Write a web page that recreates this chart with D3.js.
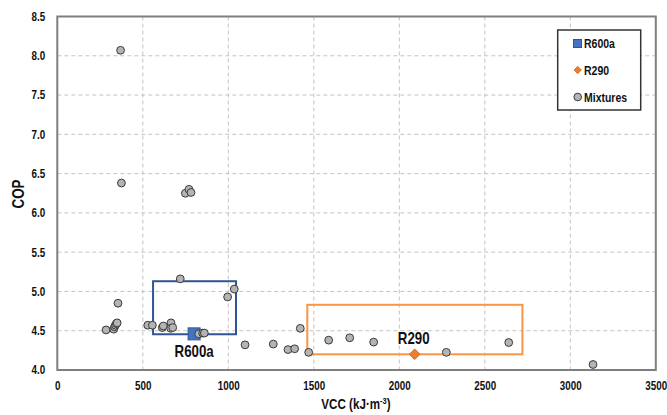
<!DOCTYPE html>
<html>
<head>
<meta charset="utf-8">
<script src="https://cdn.jsdelivr.net/npm/d3@7"></script>
<style>
  html, body { margin: 0; padding: 0; background: #fff; }
  svg { display: block; }
  text { font-family: "Liberation Sans", Arial, sans-serif; font-weight: bold; fill: #111; }
</style>
</head>
<body>
<svg id="chart" width="667" height="415"></svg>
<script>
// Reference refrigerants
const r600aPoint = [800, 4.46];
const r290Point = [2090, 4.20];

// Refrigerant mixtures: VCC (kJ·m-3), COP
const mixVCC = [370, 375, 749, 770, 782, 285, 330, 335, 340, 345, 350, 355,
  529, 556, 614, 620, 665, 663, 675, 719, 996, 1035, 827, 850, 860,
  1098, 1263, 1349, 1388, 1421, 1470, 1587, 1710, 1850, 2275, 2640, 3133];
const mixCOP = [8.07, 6.38, 6.25, 6.30, 6.26, 4.51, 4.52, 4.55, 4.57, 4.59, 4.60, 4.85,
  4.57, 4.57, 4.54, 4.56, 4.60, 4.53, 4.54, 5.16, 4.93, 5.03, 4.46, 4.47, 4.47,
  4.32, 4.33, 4.26, 4.27, 4.53, 4.225, 4.38, 4.41, 4.355, 4.225, 4.35, 4.07];

// Highlight regions around each reference refrigerant: [vccMin, vccMax, copMin, copMax]
const r600aRegion = [560, 1045, 4.455, 5.13];
const r290Region = [1462, 2720, 4.20, 4.83];

const xTicks = [0, 500, 1000, 1500, 2000, 2500, 3000, 3500];
const yTicks = [4.0, 4.5, 5.0, 5.5, 6.0, 6.5, 7.0, 7.5, 8.0, 8.5];
const legendLabels = ["R600a", "R290", "Mixtures"];

const blue = "#4472c4", blueDark = "#2f5597";
const orange = "#ed7d31", orangeBox = "#f79646";

const svg = d3.select("#chart");
const m = { left: 57.3, right: 655.8, top: 16.5, bottom: 370 };

const x = d3.scaleLinear().domain([0, 3500]).range([m.left, m.right]);
const y = d3.scaleLinear().domain([4.0, 8.5]).range([m.bottom, m.top]);

// Narrow the glyphs horizontally, keeping each text's anchor point in place
function squeeze(sel, k) {
  sel.each(function () {
    const t = d3.select(this);
    const tx = +t.attr("x") || 0, ty = +t.attr("y") || 0;
    const prev = t.attr("transform") || "";
    t.attr("x", 0).attr("y", 0)
      .attr("transform", `${prev} translate(${tx},${ty}) scale(${k},1)`);
  });
}

// Dashed grid
svg.append("g").selectAll("line").data(xTicks.slice(1, -1)).join("line")
  .attr("x1", d => x(d)).attr("x2", d => x(d))
  .attr("y1", m.top).attr("y2", m.bottom)
  .attr("stroke", "#c4c4c4").attr("stroke-width", 1).attr("stroke-dasharray", "4,3");
svg.append("g").selectAll("line").data(yTicks.slice(1, -1)).join("line")
  .attr("x1", m.left).attr("x2", m.right)
  .attr("y1", d => y(d)).attr("y2", d => y(d))
  .attr("stroke", "#c4c4c4").attr("stroke-width", 1).attr("stroke-dasharray", "4,3");

// Axes (labels only)
const xAxis = svg.append("g").attr("transform", `translate(0,${m.bottom})`)
  .call(d3.axisBottom(x).tickValues(xTicks).tickFormat(d3.format("d")).tickSize(0).tickPadding(11));
const yAxis = svg.append("g").attr("transform", `translate(${m.left},0)`)
  .call(d3.axisLeft(y).tickValues(yTicks).tickFormat(d3.format(".1f")).tickSize(0).tickPadding(12));
[xAxis, yAxis].forEach(a => {
  a.select(".domain").remove();
  a.attr("font-family", null).attr("font-size", null);
  a.selectAll("text").attr("font-size", 12).attr("fill", "#222");
  squeeze(a.selectAll("text"), 0.82);
});

// Plot frame
svg.append("rect").attr("x", m.left).attr("y", m.top)
  .attr("width", m.right - m.left).attr("height", m.bottom - m.top)
  .attr("fill", "none").attr("stroke", "#7f7f7f").attr("stroke-width", 2);

// Region boxes
svg.append("rect")
  .attr("x", x(r600aRegion[0])).attr("y", y(r600aRegion[3]))
  .attr("width", x(r600aRegion[1]) - x(r600aRegion[0]))
  .attr("height", y(r600aRegion[2]) - y(r600aRegion[3]))
  .attr("fill", "none").attr("stroke", blueDark).attr("stroke-width", 2);
svg.append("rect")
  .attr("x", x(r290Region[0])).attr("y", y(r290Region[3]))
  .attr("width", x(r290Region[1]) - x(r290Region[0]))
  .attr("height", y(r290Region[2]) - y(r290Region[3]))
  .attr("fill", "none").attr("stroke", orangeBox).attr("stroke-width", 2);

// R600a marker
svg.append("rect")
  .attr("x", x(r600aPoint[0]) - 6).attr("y", y(r600aPoint[1]) - 6)
  .attr("width", 12).attr("height", 12)
  .attr("fill", blue).attr("stroke", blueDark).attr("stroke-width", 1);

// R290 marker
const diamond = d3.symbol().type(d3.symbolDiamond2).size(70);
svg.append("path").attr("d", diamond())
  .attr("transform", `translate(${x(r290Point[0])},${y(r290Point[1])})`)
  .attr("fill", orange).attr("stroke", "#d0651e").attr("stroke-width", 1);

// Mixtures
svg.append("g").selectAll("circle").data(mixVCC.map((v, i) => [v, mixCOP[i]])).join("circle")
  .attr("cx", d => x(d[0])).attr("cy", d => y(d[1])).attr("r", 3.9)
  .attr("fill", "#b4b4b4").attr("stroke", "#3a3a3a").attr("stroke-width", 1);

// Marker labels
const lab1 = svg.append("text").attr("x", x(r600aPoint[0])).attr("y", y(r600aPoint[1]) + 23)
  .attr("text-anchor", "middle").attr("font-size", 16).attr("fill", "#222").text("R600a");
const lab2 = svg.append("text").attr("x", x(r290Point[0]) - 1).attr("y", y(r290Point[1]) - 10)
  .attr("text-anchor", "middle").attr("font-size", 16).attr("fill", "#111").text("R290");
squeeze(lab1, 0.83);
squeeze(lab2, 0.83);

// Axis titles
const xt = svg.append("text").attr("x", 356).attr("y", 409).attr("text-anchor", "middle").attr("font-size", 14)
  .html('VCC (kJ·m<tspan dy="-5" font-size="9">-3</tspan><tspan dy="5">)</tspan>');
squeeze(xt, 0.83);
const yt = svg.append("text").attr("transform", "translate(24,194) rotate(-90)")
  .attr("text-anchor", "middle").attr("font-size", 16).text("COP");
squeeze(yt, 0.84);

// Legend
const lg = svg.append("g");
lg.append("rect").attr("x", 557.7).attr("y", 30).attr("width", 83).attr("height", 80)
  .attr("fill", "#fff").attr("stroke", "#333").attr("stroke-width", 1.5);
const rows = [43.5, 70, 97];
legendLabels.forEach((t, i) => {
  const lt = lg.append("text").attr("x", 584).attr("y", rows[i] + 4.6).attr("font-size", 12.8).attr("fill", "#111").text(t);
  squeeze(lt, 0.82);
});
lg.append("rect").attr("x", 573.5).attr("y", rows[0] - 4).attr("width", 8).attr("height", 8)
  .attr("fill", blue).attr("stroke", blueDark).attr("stroke-width", 1);
lg.append("path").attr("d", d3.symbol().type(d3.symbolDiamond2).size(34)())
  .attr("transform", `translate(577.7,${rows[1]})`).attr("fill", orange).attr("stroke", "#d0651e").attr("stroke-width", 0.8);
lg.append("circle").attr("cx", 577.7).attr("cy", rows[2]).attr("r", 3.8)
  .attr("fill", "#b4b4b4").attr("stroke", "#3a3a3a").attr("stroke-width", 1);
</script>
</body>
</html>
